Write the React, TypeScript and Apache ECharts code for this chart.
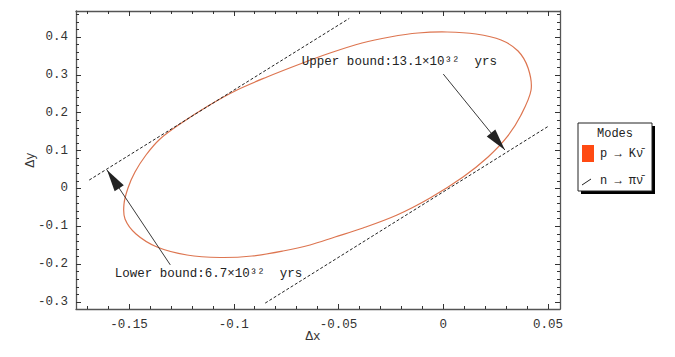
import React, { useEffect, useRef } from "react";
import * as echarts from "echarts";

// ---- Data (closed ellipse traced around, starting at its bottom) ----
const ellipseX = [
  -0.10656, -0.09129, -0.07649, -0.0636, -0.05167, -0.03831, -0.02208, -0.00632, 0.00943, 0.02136,
  0.03043, 0.03711, 0.04189, 0.04046, 0.03568, 0.02757, 0.01563, 0.00179, -0.01205, -0.02542,
  -0.03878, -0.05406, -0.06838, -0.08413, -0.09845, -0.11229, -0.12566, -0.1352, -0.14189, -0.14714,
  -0.15048, -0.15239, -0.15191, -0.14666, -0.13663, -0.12232,
];
const ellipseY = [
  -0.1825, -0.1786, -0.1654, -0.1495, -0.1284, -0.1046, -0.0703, -0.0254, 0.0301, 0.0829,
  0.1358, 0.1939, 0.2599, 0.318, 0.3629, 0.392, 0.4078, 0.4131, 0.4105, 0.4,
  0.3841, 0.3576, 0.3286, 0.2943, 0.2599, 0.2177, 0.1701, 0.1305, 0.0882, 0.0433,
  0.0011, -0.0412, -0.0808, -0.1204, -0.1548, -0.1759,
];
const upperLineX = [-0.169, -0.0449];
const upperLineY = [0.022, 0.449];
const lowerLineX = [-0.085, 0.0501];
const lowerLineY = [-0.303, 0.164];

const upperArrowFrom = [0.0, 0.302];
const upperArrowTo = [0.0294, 0.1014];
const lowerArrowFrom = [-0.1303, -0.202];
const lowerArrowTo = [-0.1605, 0.0486];

const upperLabelAt = [-0.0675, 0.333];
const lowerLabelAt = [-0.1568, -0.226];
const upperLabel = "Upper bound:13.1×10³²  yrs";
const lowerLabel = "Lower bound:6.7×10³²  yrs";

const seriesNames = ["p → Kν̄", "n → πν̄"];
const legendTitle = "Modes";

const xMajorTicks = [-0.15, -0.1, -0.05, 0, 0.05];
const xMinorTicks = [
  -0.17, -0.16, -0.14, -0.13, -0.12, -0.11, -0.09, -0.08, -0.07, -0.06,
  -0.04, -0.03, -0.02, -0.01, 0.01, 0.02, 0.03, 0.04,
];
const yMajorTicks = [-0.3, -0.2, -0.1, 0, 0.1, 0.2, 0.3, 0.4];
const yMinorTicks = [
  -0.28, -0.26, -0.24, -0.22, -0.18, -0.16, -0.14, -0.12, -0.08, -0.06, -0.04, -0.02,
  0.02, 0.04, 0.06, 0.08, 0.12, 0.14, 0.16, 0.18, 0.22, 0.24, 0.26, 0.28,
  0.32, 0.34, 0.36, 0.38, 0.42, 0.44, 0.46,
];

const X_MIN = -0.1753;
const X_MAX = 0.0557;
const Y_MIN = -0.3186;
const Y_MAX = 0.4686;

const MONO = "'Liberation Mono', 'DejaVu Sans Mono', monospace";
const FRAME = "#555555";
const ELLIPSE_COLOR = "#dd7550";
const LEGEND_SWATCH = "#ff4a12";

const fmt = (v: number) => (Math.abs(v) < 1e-9 ? "0" : String(+v.toFixed(3)));

export default function App() {
  const ref = useRef<HTMLDivElement>(null);

  useEffect(() => {
    if (!ref.current) return;
    const chart = echarts.init(ref.current, undefined, { renderer: "svg" });

    const baseAxis = (extra: any) => ({
      type: "value",
      splitLine: { show: false },
      axisLine: { show: false, onZero: false },
      axisLabel: { show: false },
      ...extra,
    });
    const tickStyle = { color: "#333", width: 1 };

    const xAxes = [
      baseAxis({
        min: X_MIN, max: X_MAX, position: "bottom",
        axisLine: { show: true, onZero: false, lineStyle: { color: FRAME, width: 1.3 } },
        axisTick: { show: true, inside: true, length: 5, customValues: xMajorTicks, lineStyle: tickStyle },
        axisLabel: { show: true, customValues: xMajorTicks, formatter: fmt, fontFamily: MONO, fontSize: 12.5, color: "#333", margin: 9 },
        name: "Δx", nameLocation: "middle", nameGap: 21, nameMoveOverlap: false,
        nameTextStyle: { fontFamily: MONO, fontSize: 12.5, color: "#333", padding: [0, 10, 0, 0] },
      }),
      baseAxis({
        min: X_MIN, max: X_MAX, position: "bottom",
        axisTick: { show: true, inside: true, length: 3, customValues: xMinorTicks, lineStyle: tickStyle },
      }),
      baseAxis({
        min: X_MIN, max: X_MAX, position: "top",
        axisLine: { show: true, onZero: false, lineStyle: { color: FRAME, width: 1.3 } },
        axisTick: { show: true, inside: true, length: 5, customValues: xMajorTicks, lineStyle: tickStyle },
      }),
      baseAxis({
        min: X_MIN, max: X_MAX, position: "top",
        axisTick: { show: true, inside: true, length: 3, customValues: xMinorTicks, lineStyle: tickStyle },
      }),
    ];
    const yAxes = [
      baseAxis({
        min: Y_MIN, max: Y_MAX, position: "left",
        axisLine: { show: true, onZero: false, lineStyle: { color: FRAME, width: 1.3 } },
        axisTick: { show: true, inside: true, length: 5, customValues: yMajorTicks, lineStyle: tickStyle },
        axisLabel: { show: true, customValues: yMajorTicks, formatter: fmt, fontFamily: MONO, fontSize: 12.5, color: "#333", margin: 8 },
        name: "Δy", nameLocation: "middle", nameGap: 39, nameRotate: 90, nameMoveOverlap: false,
        nameTextStyle: { fontFamily: MONO, fontSize: 12.5, color: "#333" },
      }),
      baseAxis({
        min: Y_MIN, max: Y_MAX, position: "left",
        axisTick: { show: true, inside: true, length: 3, customValues: yMinorTicks, lineStyle: tickStyle },
      }),
      baseAxis({
        min: Y_MIN, max: Y_MAX, position: "right",
        axisLine: { show: true, onZero: false, lineStyle: { color: FRAME, width: 1.3 } },
        axisTick: { show: true, inside: true, length: 5, customValues: yMajorTicks, lineStyle: tickStyle },
      }),
      baseAxis({
        min: Y_MIN, max: Y_MAX, position: "right",
        axisTick: { show: true, inside: true, length: 3, customValues: yMinorTicks, lineStyle: tickStyle },
      }),
    ];

    const ellipseData = ellipseX.map((x, i) => [x, ellipseY[i]]);
    const upperData = upperLineX.map((x, i) => [x, upperLineY[i]]);
    const lowerData = lowerLineX.map((x, i) => [x, lowerLineY[i]]);

    const dashed = { color: "#222", width: 1, type: [3, 2] as any };
    const labelStyle = { fontFamily: MONO, fontSize: 12.5, color: "#222" };

    // Closed smooth curve through the traced points (Catmull-Rom rendered as cubic Beziers)
    const renderEllipse = (params: any, api: any) => {
      if (params.dataIndex !== 0) return { type: "group", children: [] };
      const pts = ellipseData.map((p) => api.coord(p));
      const n = pts.length;
      let d = `M${pts[0][0]},${pts[0][1]}`;
      for (let i = 0; i < n; i++) {
        const p0 = pts[(i - 1 + n) % n];
        const p1 = pts[i];
        const p2 = pts[(i + 1) % n];
        const p3 = pts[(i + 2) % n];
        const c1x = p1[0] + (p2[0] - p0[0]) / 6;
        const c1y = p1[1] + (p2[1] - p0[1]) / 6;
        const c2x = p2[0] - (p3[0] - p1[0]) / 6;
        const c2y = p2[1] - (p3[1] - p1[1]) / 6;
        d += ` C${c1x},${c1y} ${c2x},${c2y} ${p2[0]},${p2[1]}`;
      }
      d += " Z";
      return {
        type: "path",
        shape: { pathData: d },
        style: { fill: "none", stroke: ELLIPSE_COLOR, lineWidth: 1.2 },
      };
    };

    chart.setOption({
      animation: false,
      backgroundColor: "#ffffff",
      grid: { left: 76, top: 11, width: 484, height: 298, containLabel: false },
      xAxis: xAxes,
      yAxis: yAxes,
      series: [
        {
          name: seriesNames[0],
          type: "custom",
          data: ellipseData,
          encode: { x: 0, y: 1 },
          renderItem: renderEllipse,
          silent: true,
        },
        {
          name: seriesNames[1],
          type: "line",
          data: upperData,
          showSymbol: false,
          lineStyle: dashed,
          markLine: {
            silent: true,
            symbol: ["none", "triangle"],
            symbolSize: [11, 22],
            symbolOffset: [[0, 0], [0, "50%"]],
            label: { show: false },
            lineStyle: { color: "#222", width: 0.9, type: "solid" },
            itemStyle: { color: "#000" },
            data: [
              [{ coord: upperArrowFrom }, { coord: upperArrowTo }],
              [{ coord: lowerArrowFrom }, { coord: lowerArrowTo }],
            ],
          },
          markPoint: {
            silent: true,
            symbol: "circle",
            symbolSize: 0,
            data: [
              { coord: upperLabelAt, value: upperLabel, label: { show: true, position: "right", distance: 0, formatter: upperLabel, ...labelStyle } },
              { coord: lowerLabelAt, value: lowerLabel, label: { show: true, position: "right", distance: 0, formatter: lowerLabel, ...labelStyle } },
            ],
          },
        },
        {
          name: seriesNames[1] + " ",
          type: "line",
          data: lowerData,
          showSymbol: false,
          lineStyle: dashed,
        },
      ],
      graphic: [
        { type: "rect", shape: { x: 581, y: 126, width: 74, height: 68 }, style: { fill: "#000" } },
        { type: "rect", shape: { x: 578, y: 123, width: 74, height: 68 }, style: { fill: "#fff", stroke: "#222", lineWidth: 1 } },
        { type: "text", x: 615, y: 134, style: { text: legendTitle, fontFamily: MONO, fontSize: 12, fill: "#222", align: "center", verticalAlign: "middle" } },
        { type: "rect", shape: { x: 582, y: 145, width: 12, height: 17 }, style: { fill: LEGEND_SWATCH } },
        { type: "text", x: 600, y: 154, style: { text: seriesNames[0], fontFamily: MONO, fontSize: 12, fill: "#222", align: "left", verticalAlign: "middle" } },
        { type: "line", shape: { x1: 582, y1: 185, x2: 591, y2: 179 }, style: { stroke: "#222", lineWidth: 1 } },
        { type: "text", x: 600, y: 181, style: { text: seriesNames[1], fontFamily: MONO, fontSize: 12, fill: "#222", align: "left", verticalAlign: "middle" } },
      ],
    });

    return () => chart.dispose();
  }, []);

  return (
    <div
      ref={ref}
      style={{ position: "absolute", left: 0, top: 0, width: 675, height: 357, background: "#fff" }}
    />
  );
}
